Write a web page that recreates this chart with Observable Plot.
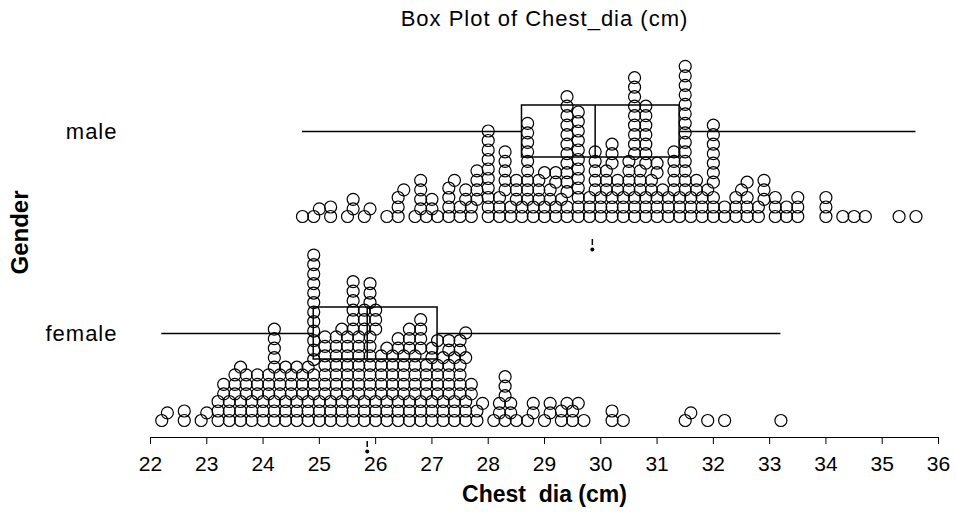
<!DOCTYPE html>
<html>
<head>
<meta charset="utf-8">
<script src="https://cdn.jsdelivr.net/npm/d3@7"></script>
<script src="https://cdn.jsdelivr.net/npm/@observablehq/plot@0.6"></script>
<style>
  html, body { margin: 0; padding: 0; background: #fff; }
  #chart svg { font-family: "Liberation Sans", Arial, sans-serif; }
  g[aria-label="x-axis tick label"] { font-size: 21px; }
  g[aria-label="y-axis tick label"] { font-size: 22px; letter-spacing: 1px; }
  g[aria-label="x-axis label"] { font-size: 23px; font-weight: bold; }
  g[aria-label="y-axis label"] { font-size: 24px; font-weight: bold; }
  g[aria-label="text"] { letter-spacing: 1px; }
</style>
</head>
<body>
<div id="chart"></div>
<script>
// ---- data ----
const title = "Box Plot of Chest_dia (cm)";
const xLabel = "Chest\u00a0 dia (cm)";
const yLabel = "Gender";
const genders = ["male", "female"];
const xTicks = [22, 23, 24, 25, 26, 27, 28, 29, 30, 31, 32, 33, 34, 35, 36];

// chest diameter values (cm) and how many people share each value
const maleBins = [24.7, 24.9, 25.0, 25.2, 25.5, 25.6, 25.8, 25.9, 26.2, 26.4, 26.5, 26.7, 26.8, 26.9, 27.0, 27.1, 27.3, 27.4, 27.5, 27.6, 27.7, 27.8,
  28.0, 28.2, 28.3, 28.4, 28.5, 28.6, 28.7, 28.8, 28.9, 29.0, 29.1, 29.2, 29.3, 29.4, 29.6, 29.8, 29.9, 30.0,
  30.1, 30.2, 30.3, 30.4, 30.5, 30.6, 30.7, 30.8, 30.9, 31.0, 31.1, 31.2, 31.3, 31.4, 31.5, 31.6, 31.7, 31.8, 31.9, 32.0,
  32.2, 32.4, 32.5, 32.6, 32.8, 32.9, 33.1, 33.3, 33.5, 34.0, 34.3, 34.5, 34.7, 35.3, 35.6];
const maleCounts = [1, 1, 1, 2, 1, 2, 1, 1, 1, 3, 1, 1, 4, 1, 2, 1, 4, 1, 2, 2, 2, 4,
  10, 3, 5, 2, 3, 2, 9, 2, 3, 3, 2, 4, 1, 13, 12, 3, 5, 3,
  3, 6, 2, 3, 4, 12, 3, 10, 2, 5, 1, 3, 5, 3, 14, 3, 2, 3, 1, 10,
  2, 3, 1, 4, 2, 3, 3, 2, 3, 3, 1, 1, 1, 1, 1];

const femaleBins = [22.2, 22.3, 22.6, 22.9, 23.0, 23.2, 23.3, 23.4, 23.5, 23.6, 23.7, 23.8, 23.9, 24.0, 24.1, 24.2, 24.3, 24.4, 24.5, 24.6,
  24.7, 24.8, 24.9, 25.0, 25.1, 25.2, 25.3, 25.4, 25.5, 25.6, 25.7, 25.8, 25.9, 26.0, 26.1, 26.2, 26.3, 26.4, 26.5, 26.6,
  26.7, 26.8, 26.9, 27.0, 27.1, 27.2, 27.3, 27.4, 27.5, 27.6, 27.7, 27.8, 27.9, 28.1, 28.2, 28.3, 28.4, 28.5, 28.7, 28.8,
  29.0, 29.1, 29.3, 29.4, 29.5, 29.6, 29.7, 30.2, 30.4, 31.5, 31.6, 31.9, 32.2, 33.2];
const femaleCounts = [1, 1, 2, 1, 1, 3, 2, 3, 3, 4, 3, 3, 3, 3, 3, 8, 3, 4, 3, 4,
  3, 4, 15, 3, 7, 3, 7, 4, 7, 9, 7, 6, 10, 6, 5, 4, 5, 5, 5, 6,
  5, 7, 4, 5, 5, 4, 6, 4, 6, 5, 2, 2, 1, 1, 2, 4, 2, 1, 1, 2,
  1, 2, 2, 1, 2, 1, 1, 2, 1, 1, 1, 1, 1, 1];

// box-plot summaries
const boxGender = ["male", "female"];
const boxMin    = [24.7, 22.2];
const boxQ1     = [28.6, 24.9];
const boxMedian = [29.9, 25.85];
const boxQ3     = [31.4, 27.1];
const boxMax    = [35.6, 33.2];
const boxMean   = [29.85, 25.85];

// ---- build tables ----
const expand = (bins, counts, gender) =>
  bins.flatMap((v, i) => Array.from({length: counts[i]}, () => ({gender, value: v})));
const maleDots = expand(maleBins, maleCounts, "male");
const femaleDots = expand(femaleBins, femaleCounts, "female");
const boxes = boxGender.map((g, i) => ({
  gender: g, min: boxMin[i], q1: boxQ1[i], median: boxMedian[i], q3: boxQ3[i], max: boxMax[i], mean: boxMean[i]
}));

const dotOpts = {anchor: "bottom", x: "value", r: 6, padding: -2.5, stroke: "black", strokeWidth: 1.2, fill: "none"};

const chart = Plot.plot({
  width: 956,
  height: 518,
  marginLeft: 150,
  marginRight: 18,
  marginTop: 27,
  marginBottom: 81,
  style: {fontFamily: "Liberation Sans, Arial, sans-serif", fontSize: "21px", color: "black", background: "white"},
  x: {domain: [22, 36], ticks: xTicks, tickSize: 7, tickPadding: 12, line: true,
      label: xLabel, labelAnchor: "center", labelOffset: 64, labelArrow: "none"},
  y: {type: "band", domain: genders, paddingInner: 0.7426, paddingOuter: 0.386, tickSize: 0, tickPadding: 33,
      label: yLabel, labelAnchor: "center", labelOffset: 140, labelArrow: "none"},
  marks: [
    Plot.ruleY(boxes, {y: "gender", x1: "min", x2: "q1", stroke: "black", strokeWidth: 1.5}),
    Plot.ruleY(boxes, {y: "gender", x1: "q3", x2: "max", stroke: "black", strokeWidth: 1.5}),
    Plot.barX(boxes, {y: "gender", x1: "q1", x2: "q3", fill: "none", stroke: "black", strokeWidth: 1.5}),
    Plot.tickX(boxes, {y: "gender", x: "median", stroke: "black", strokeWidth: 1.5}),
    Plot.tickX(boxes, {y: "gender", x: "mean", stroke: "black", strokeWidth: 1.5, insetTop: 46, dy: 88}),
    Plot.dot(boxes, {y: "gender", x: "mean", r: 2, fill: "black", dy: 118}),
    Plot.dot(maleDots, Plot.dodgeY({...dotOpts, dy: -243.5})),
    Plot.dot(femaleDots, Plot.dodgeY({...dotOpts, dy: -39.5})),
    Plot.text([title], {frameAnchor: "top", text: (d) => d, dy: -9, fontSize: 22, lineAnchor: "middle"})
  ]
});
document.getElementById("chart").appendChild(chart);
</script>
</body>
</html>
